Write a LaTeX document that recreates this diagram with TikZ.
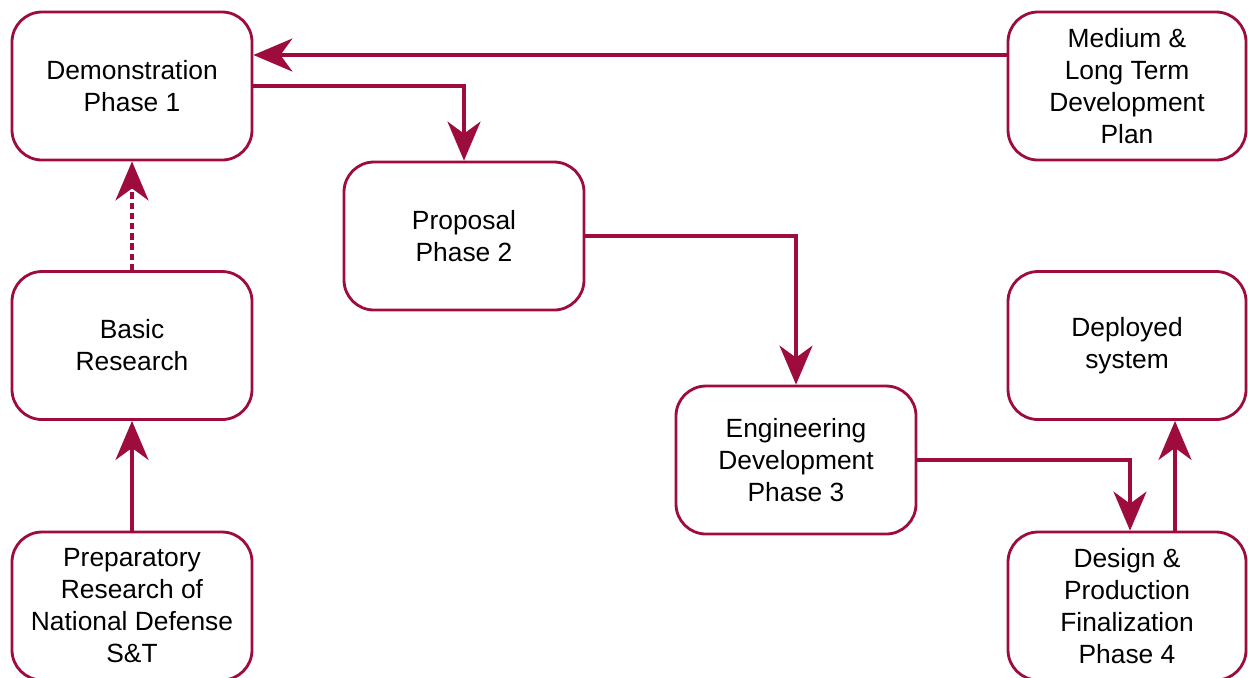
\documentclass[tikz,border=0pt]{standalone}
\usepackage{fontspec}
\setmainfont{Liberation Sans}
\usetikzlibrary{arrows.meta}

\definecolor{crimson}{HTML}{9E0B3D}

\tikzset{
  phase/.style={draw=crimson,line width=0.8pt,rounded corners=3mm,
    minimum width=2.4cm,minimum height=1.48cm,align=center,
    font=\fontsize{7.5}{9.1}\selectfont,inner sep=0pt},
  flow/.style={draw=crimson,line width=0.95pt,
    -{Stealth[length=3.9mm,width=3.3mm,inset=1.2mm]}},
}

\begin{document}
\begin{tikzpicture}
%    \draw[orange,thin] (0,0) grid (12.48,-6.77);
    \useasboundingbox (0,0) rectangle (12.48,-6.77);

    % boxes
    \node[phase] (demo)   at (1.32,-0.86) {Demonstration\\Phase 1};
    \node[phase,minimum width=2.38cm] (plan) at (11.27,-0.86) {Medium \&\\Long Term\\Development\\Plan};
    \node[phase] (prop)   at (4.64,-2.36) {Proposal\\Phase 2};
    \node[phase] (basic)  at (1.32,-3.455) {Basic\\Research};
    \node[phase,minimum width=2.38cm] (deploy) at (11.27,-3.455) {Deployed\\system};
    \node[phase] (eng)    at (7.96,-4.60) {Engineering\\Development\\Phase 3};
    \node[phase] (prep)   at (1.32,-6.06) {Preparatory\\Research of\\National Defense\\S\&T};
    \node[phase,minimum width=2.38cm] (design) at (11.27,-6.06) {Design \&\\Production\\Finalization\\Phase 4};

    % plan feeds back to phase 1
    \draw[flow] ([yshift=3.1mm]plan.west) -- ([yshift=3.1mm]demo.east);

    % main line of phases
    \draw[flow] (demo.east) -| (prop.north);
    \draw[flow] (prop.east) -| (eng.north);
    \draw[flow] (eng.east) -| ([xshift=0.3mm]design.north);
    \draw[flow] ([xshift=4.8mm]design.north) -- ([xshift=4.8mm]deploy.south);

    % research
    \draw[flow] (prep.north) -- (basic.south);
    \draw[flow,dash pattern=on 1.8pt off 1.1pt] (basic.north) -- (demo.south);

\end{tikzpicture}
\end{document}
